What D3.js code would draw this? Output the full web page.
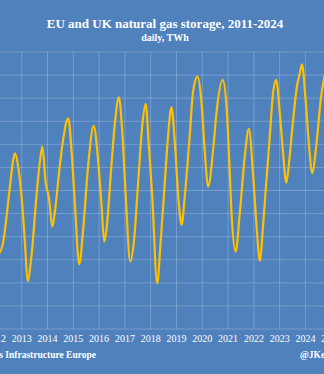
<!DOCTYPE html>
<html><head><meta charset="utf-8">
<script src="https://cdn.jsdelivr.net/npm/d3@7"></script>
<style>
html,body{margin:0;padding:0;background:#4f81bd;overflow:hidden;}
svg{display:block;}
text{font-family:"Liberation Serif","DejaVu Serif",serif;fill:#fff;}
</style></head>
<body>
<svg id="chart" width="324" height="374"></svg>
<script>
const title = "EU and UK natural gas storage, 2011-2024";
const subtitle = "daily, TWh";
const sourceText = "Source: Gas Infrastructure Europe";
const creditText = "@JKempEnergy";
const yearTicks = [2011,2012,2013,2014,2015,2016,2017,2018,2019,2020,2021,2022,2023,2024,2025];
const valueTicks = [0,100,200,300,400,500,600,700,800,900,1000,1100,1200];

const dates = [
"2011-01-01","2011-04-01","2011-10-20","2012-02-20","2012-04-10","2012-07-15","2012-09-01","2012-09-28",
"2012-11-15","2013-01-01","2013-02-15","2013-03-25","2013-05-20","2013-07-30","2013-09-15","2013-10-20",
"2013-12-05","2014-01-22","2014-03-10","2014-04-15","2014-06-25","2014-08-10","2014-10-22",
"2014-12-08","2015-01-25","2015-03-25","2015-05-22","2015-07-31","2015-10-17",
"2015-12-20","2016-02-05","2016-03-14","2016-04-16","2016-06-28","2016-08-14","2016-10-08",
"2016-11-24","2017-01-12","2017-03-18","2017-05-08","2017-07-08","2017-09-09","2017-10-22",
"2017-12-05","2018-01-22","2018-04-03","2018-05-22","2018-07-20","2018-09-05","2018-10-22",
"2018-12-08","2019-01-25","2019-03-14","2019-04-30","2019-07-08","2019-08-24","2019-10-26",
"2019-12-24","2020-02-06","2020-03-25","2020-06-05","2020-07-22","2020-10-15",
"2020-12-12","2021-01-18","2021-02-20","2021-04-17","2021-06-17","2021-08-27","2021-10-22",
"2021-12-24","2022-02-10","2022-03-28","2022-05-08","2022-06-26","2022-08-12","2022-09-27","2022-11-12",
"2023-01-01","2023-02-17","2023-04-05","2023-05-20","2023-07-08","2023-09-06","2023-10-08","2023-11-13",
"2024-01-01","2024-02-20","2024-04-04","2024-05-30","2024-08-07","2024-09-13","2024-11-01","2024-12-31"
];
const storage = [
620,330,880,330,372,610,730,761,
696,566,378,208,320,580,725,790,
638,566,443,508,710,819,913,
768,537,280,436,710,880,
725,537,378,436,725,898,1004,
855,580,292,378,638,898,975,
797,580,198,378,638,840,960,
812,580,451,580,840,1028,1093,
971,768,617,783,942,1079,
956,725,494,335,508,754,867,
653,436,295,436,638,826,1014,1079,
942,768,634,740,898,1057,1100,1147,
1000,797,675,783,1000,1072,1140,980
];

const parse = d3.timeParse("%Y-%m-%d");
const data = dates.map((d,i)=>({date:parse(d), value:storage[i]}));

const svg = d3.select("#chart");
const W = 324, H = 374;
const yearW = 25.8;
const x0 = 21.7 - 2*yearW; // 2011-01-01
const x = d3.scaleTime()
  .domain([new Date(2011,0,1), new Date(2025,0,1)])
  .range([x0, x0 + 14*yearW]);
const y = d3.scaleLinear().domain([0,1200]).range([329,52]);

// grid
const grid = svg.append("g");
grid.selectAll("line.h").data(valueTicks).join("line")
  .attr("x1", x(new Date(2011,0,1))).attr("x2", W+10)
  .attr("y1", d=>y(d)).attr("y2", d=>y(d))
  .attr("stroke","rgba(255,255,255,0.22)").attr("stroke-width",1);
grid.selectAll("line.v").data(yearTicks).join("line")
  .attr("x1", d=>x(new Date(d,0,1))).attr("x2", d=>x(new Date(d,0,1)))
  .attr("y1", y(1200)).attr("y2", y(0))
  .attr("stroke","rgba(255,255,255,0.22)").attr("stroke-width",1);

// year labels
svg.append("g").selectAll("text").data(yearTicks).join("text")
  .attr("x", d=>x(new Date(d,0,1)))
  .attr("y", 342)
  .attr("text-anchor","middle")
  .style("font-size","10px")
  .text(d=>d);

// line
const line = d3.line().x(d=>x(d.date)).y(d=>y(d.value)).curve(d3.curveMonotoneX);
svg.append("path").datum(data)
  .attr("d", line)
  .attr("fill","none")
  .attr("stroke","#ffc000")
  .attr("stroke-width",2.2)
  .attr("stroke-linejoin","round");

// titles
svg.append("text").attr("x",165).attr("y",28).attr("text-anchor","middle")
  .style("font-size","13px").style("font-weight","bold").text(title);
svg.append("text").attr("x",165).attr("y",41).attr("text-anchor","middle")
  .style("font-size","10px").style("font-weight","bold").text(subtitle);

// footer
svg.append("text").attr("x",96).attr("y",358).attr("text-anchor","end")
  .style("font-size","9.5px").style("font-weight","bold").text(sourceText);
svg.append("text").attr("x",300).attr("y",358).attr("text-anchor","start")
  .style("font-size","9.5px").style("font-weight","bold").text(creditText);
</script>
</body></html>
